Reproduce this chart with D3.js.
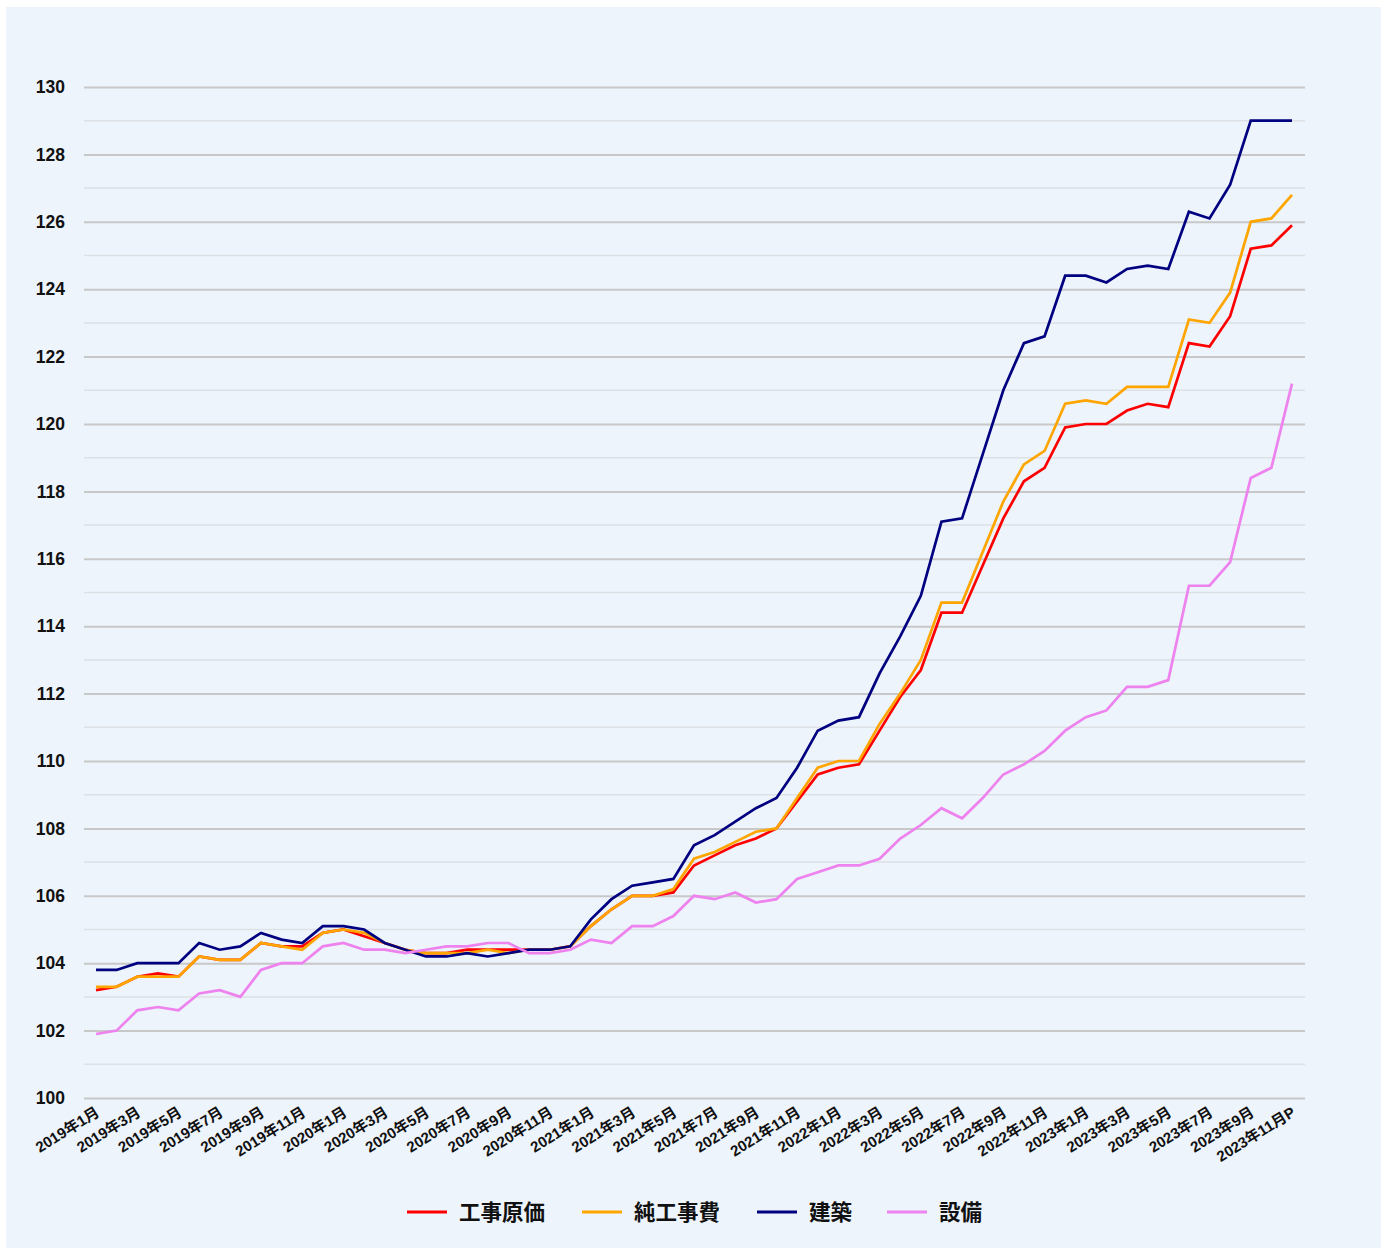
<!DOCTYPE html>
<html><head><meta charset="utf-8">
<script src="https://cdn.jsdelivr.net/npm/d3@7"></script>
<style>body{margin:0;background:#fff;font-family:"Liberation Sans","Noto Sans CJK JP",sans-serif;}</style>
</head><body><svg id="c" width="1388" height="1248"></svg>
<script>
const months = [];
for (let y = 2019; y <= 2023; y++) for (let m = 1; m <= 12; m++) {
  if (y === 2023 && m > 11) break;
  months.push(y + "年" + m + "月" + (y === 2023 && m === 11 ? "P" : ""));
}
const seriesNames = ["工事原価", "純工事費", "建築", "設備"];
const seriesColors = ["#FF0000", "#FFA500", "#000080", "#EE82EE"];
const kojiGenka = [103.2,103.3,103.6,103.7,103.6,104.2,104.1,104.1,104.6,104.5,104.5,104.9,
  105.0,104.8,104.6,104.4,104.3,104.3,104.4,104.4,104.4,104.4,104.4,104.5,
  105.1,105.6,106.0,106.0,106.1,106.9,107.2,107.5,107.7,108.0,108.8,109.6,
  109.8,109.9,110.9,111.9,112.7,114.4,114.4,115.8,117.2,118.3,118.7,119.9,
  120.0,120.0,120.4,120.6,120.5,122.4,122.3,123.2,125.2,125.3,125.9];
const junKojihi = [103.3,103.3,103.6,103.6,103.6,104.2,104.1,104.1,104.6,104.5,104.4,104.9,
  105.0,104.9,104.6,104.4,104.3,104.3,104.3,104.4,104.3,104.4,104.4,104.5,
  105.1,105.6,106.0,106.0,106.2,107.1,107.3,107.6,107.9,108.0,108.9,109.8,
  110.0,110.0,111.1,112.0,113.0,114.7,114.7,116.2,117.7,118.8,119.2,120.6,
  120.7,120.6,121.1,121.1,121.1,123.1,123.0,123.9,126.0,126.1,126.8];
const kenchiku = [103.8,103.8,104.0,104.0,104.0,104.6,104.4,104.5,104.9,104.7,104.6,105.1,
  105.1,105.0,104.6,104.4,104.2,104.2,104.3,104.2,104.3,104.4,104.4,104.5,
  105.3,105.9,106.3,106.4,106.5,107.5,107.8,108.2,108.6,108.9,109.8,110.9,
  111.2,111.3,112.6,113.7,114.9,117.1,117.2,119.1,121.0,122.4,122.6,124.4,
  124.4,124.2,124.6,124.7,124.6,126.3,126.1,127.1,129.0,129.0,129.0];
const setsubi = [101.9,102.0,102.6,102.7,102.6,103.1,103.2,103.0,103.8,104.0,104.0,104.5,
  104.6,104.4,104.4,104.3,104.4,104.5,104.5,104.6,104.6,104.3,104.3,104.4,
  104.7,104.6,105.1,105.1,105.4,106.0,105.9,106.1,105.8,105.9,106.5,106.7,
  106.9,106.9,107.1,107.7,108.1,108.6,108.3,108.9,109.6,109.9,110.3,110.9,
  111.3,111.5,112.2,112.2,112.4,115.2,115.2,115.9,118.4,118.7,121.2];
const yTicks = [100,102,104,106,108,110,112,114,116,118,120,122,124,126,128,130];

const allSeries = [kojiGenka, junKojihi, kenchiku, setsubi];
const svg = d3.select("#c");
svg.append("rect").attr("x",6).attr("y",7).attr("width",1375).attr("height",1241).attr("fill","#EDF4FB");

const x = d3.scalePoint().domain(months).range([96, 1292]);
const y = d3.scaleLinear().domain([100, 130]).range([1098, 87]);
const gx0 = 84, gx1 = 1305;

// minor gridlines
const minor = d3.range(101, 130, 2);
svg.append("g").selectAll("line").data(minor).join("line")
  .attr("x1", gx0).attr("x2", gx1).attr("y1", d => y(d)).attr("y2", d => y(d))
  .attr("stroke", "#DDE1E5").attr("stroke-width", 1.5);

// major grid + y axis
const yAxis = d3.axisLeft(y).tickValues(yTicks).tickSize(-(gx1 - gx0)).tickPadding(19).tickFormat(d3.format("d"));
const gy = svg.append("g").attr("transform", `translate(${gx0},0)`).call(yAxis);
gy.select(".domain").remove();
gy.selectAll(".tick line").attr("stroke", "#C8C8C8").attr("stroke-width", 2);
gy.selectAll(".tick text").attr("font-size", 17.5).attr("font-weight", "bold").attr("fill", "#111")
  .attr("font-family", "Liberation Sans, Arial, sans-serif");

// x axis labels
const xLabels = months.filter((d, i) => i % 2 === 0);
const xAxis = d3.axisBottom(x).tickValues(xLabels).tickSize(0).tickPadding(0);
const gxA = svg.append("g").attr("transform", `translate(0,1098)`).call(xAxis);
gxA.select(".domain").remove();
gxA.selectAll(".tick text")
  .attr("font-size", 15).attr("font-weight", "bold").attr("fill", "#111")
  .attr("font-family", "Liberation Sans, Noto Sans CJK JP, sans-serif")
  .attr("text-anchor", "end").attr("dy", null).attr("y", 0)
  .attr("transform", "translate(4,17) rotate(-32)");

// lines
const line = d3.line().x((d, i) => x(months[i])).y(d => y(d));
svg.append("g").selectAll("path").data(allSeries).join("path")
  .attr("d", d => line(d)).attr("fill", "none")
  .attr("stroke", (d, i) => seriesColors[i]).attr("stroke-width", 2.7)
  .attr("stroke-linejoin", "miter");

// legend
const legX = [407, 582, 757, 887];
const lg = svg.append("g").selectAll("g").data(seriesNames).join("g")
  .attr("transform", (d, i) => `translate(${legX[i]},1212)`);
lg.append("line").attr("x1", 0).attr("x2", 40).attr("y1", 0).attr("y2", 0)
  .attr("stroke", (d, i) => seriesColors[i]).attr("stroke-width", 3);
lg.append("text").attr("x", 52).attr("y", 8).text(d => d)
  .attr("font-size", 21.5).attr("font-weight", "bold").attr("fill", "#111")
  .attr("font-family", "Noto Sans CJK JP, sans-serif");
</script></body></html>
